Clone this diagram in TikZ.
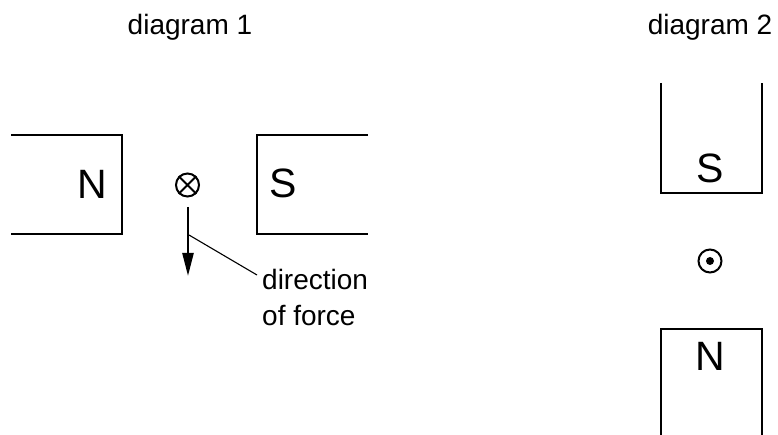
\documentclass[tikz,border=0pt]{standalone}
\usepackage{fontspec}
\setmainfont{Liberation Sans}
\usetikzlibrary{arrows.meta}
\begin{document}
\begin{tikzpicture}[x=1pt,y=-1pt,
  magnet/.style={line width=2.5pt},
  lbl/.style={font=\fontsize{28}{32}\selectfont, inner sep=0pt},
  pole/.style={font=\fontsize{41}{44}\selectfont, inner sep=0pt},
  wire/.style={circle, draw, line width=2pt, minimum size=23pt, inner sep=0pt},
  force/.style={line width=2.4pt, -{Triangle[length=23pt,width=11pt]}},
  leader/.style={line width=1.1pt}]
\useasboundingbox (0,0) rectangle (778,435);
% titles
\node[lbl] (t1) at (190,27) {diagram 1};
\node[lbl] (t2) at (710,27) {diagram 2};
% diagram 1 magnets
\draw[magnet] (11,135) -- (122,135) -- (122,234) -- (11,234);
\draw[magnet] (368,135) -- (257,135) -- (257,234) -- (368,234);
\node[pole] (n1) at (92,184) {N};
\node[pole] (s1) at (283,183) {S};
% wire into page
\node[wire] (w1) at (187.5,185) {};
\draw[line width=2pt] (w1.north east) -- (w1.south west) (w1.north west) -- (w1.south east);
\coordinate (a0) at (188,207);
\coordinate (a1) at (188,276);
\draw[force] (a0) -- (a1);
\coordinate (lp) at (189,235);
\node[lbl, anchor=base west] (dir) at (262,290) {direction};
\node[lbl, anchor=base west] (dir2) at (262,325) {of force};
\coordinate (le) at (257,275);
\draw[leader] (lp) -- (le);
% diagram 2 magnets
\draw[magnet] (661,83) -- (661,193) -- (762,193) -- (762,83);
\draw[magnet] (661,435) -- (661,329) -- (762,329) -- (762,435);
\node[pole] (s2) at (710,168) {S};
\node[pole] (n2) at (710,356) {N};
% wire out of page
\node[wire] (w2) at (710,261) {};
\fill (w2.center) circle (4pt);
\end{tikzpicture}
\end{document}
